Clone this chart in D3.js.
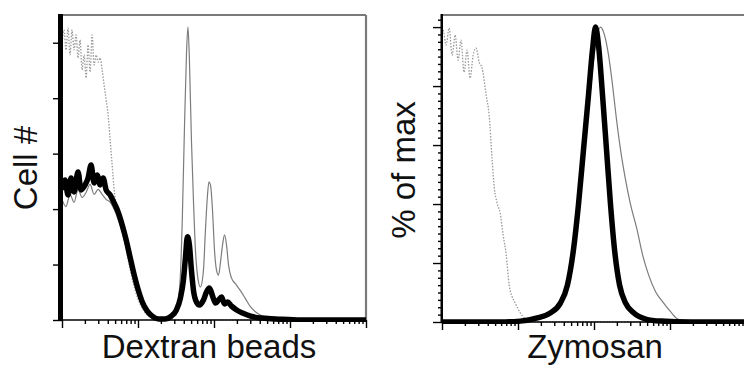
<!DOCTYPE html>
<html><head><meta charset="utf-8">
<script src="https://cdn.jsdelivr.net/npm/d3@7"></script>
<style>body{margin:0;background:#fff}svg{display:block}</style>
</head><body>
<svg id="c" width="744" height="372"></svg>
<script>
// ---------- data (fluorescence intensity on a 4-decade log axis, counts / % of max) ----------
const xDomain = [1, 10000];
const xMajorTicks = [1, 10, 100, 1000, 10000];
const dextranYTicks = [0, 20, 40, 60, 80, 100];
const zymosanYTicks = [0, 20, 40, 60, 80, 100];
const xTitles = ["Dextran beads", "Zymosan"];
const yTitles = ["Cell #", "% of max"];

const dextranControl = [[1,99.2],[1.063,104.6],[1.129,97.4],[1.2,105.3],[1.275,95.6],[1.355,104.6],[1.44,97.4],[1.53,102.8],[1.626,94.5],[1.728,101.0],[1.837,90.2],[1.952,95.6],[2.074,87.3],[2.204,99.2],[2.342,89.4],[2.489,102.8],[2.645,92.0],[2.811,95.6],[2.987,93.0],[3.174,94.5],[3.374,90.2],[3.585,84.7],[3.809,79.3],[4.048,73.9],[4.302,64.9],[4.572,55.9],[4.859,46.9],[5.323,39.7],[6.011,34.3],[6.789,27.0],[7.665,19.8],[8.656,13.3],[9.775,8.3],[11.38,4.3],[13.25,1.8],[15.42,0.7],[19.67,0],[10000,0]];
const dextranGray = [[1,43.5],[1.129,40.9],[1.275,45.3],[1.44,42.4],[1.626,47.1],[1.837,44.2],[2.074,46.0],[2.342,48.9],[2.645,45.3],[2.987,47.1],[3.374,45.3],[3.809,43.5],[4.302,42.5],[4.859,39.9],[5.487,36.1],[6.197,31.7],[6.999,26.0],[7.904,19.8],[8.923,13.7],[10.08,9.0],[11.38,5.4],[13.25,2.5],[15.42,1.1],[18.51,0.4],[22.89,0.4],[27.48,1.1],[31.99,2.5],[34.0,7.2],[36.13,16.2],[38.4,37.9],[40.8,68.5],[43.4,95.6],[45.4,105.7],[47.49,93.8],[50.47,64.9],[53.63,43.3],[57.0,25.2],[60.6,16.2],[66.3,11.9],[72.67,18.0],[77.2,32.5],[82.1,45.1],[85.9,49.8],[89.9,48.7],[95.54,39.7],[101.5,25.2],[107.9,18.0],[114.7,16.2],[121.8,20.9],[129.5,27.0],[137.6,30.7],[146.2,27.0],[155.4,19.8],[170.2,15.1],[192.2,13.0],[223.8,10.5],[260.5,7.6],[303.2,4.7],[353.1,2.9],[436.9,1.4],[648.4,0.4],[1387,0],[10000,0]];
const dextranBlack = [[1,46.9],[1.095,50.5],[1.2,45.1],[1.315,51.2],[1.44,46.2],[1.626,53.4],[1.781,46.9],[2.012,48.7],[2.204,51.2],[2.415,55.9],[2.645,49.4],[2.897,52.3],[3.174,48.7],[3.477,51.2],[3.809,46.9],[4.302,45.1],[4.859,42.2],[5.487,38.9],[6.197,34.3],[6.999,28.8],[7.904,22.4],[8.923,16.2],[10.08,10.8],[11.38,6.5],[13.25,3.2],[15.42,1.4],[18.51,0.4],[22.89,0.4],[27.48,1.4],[31.99,3.6],[36.13,7.9],[39.57,14.4],[42.05,22.4],[44.69,30.0],[47.49,27.0],[50.47,18.0],[53.63,10.8],[58.75,6.5],[64.37,5.4],[72.67,7.2],[79.62,10.1],[87.23,11.5],[95.54,8.7],[104.7,6.1],[114.7,7.2],[125.6,8.3],[137.6,5.8],[150.8,6.5],[170.2,5.0],[198.2,3.6],[237.8,2.5],[303.2,1.4],[411.1,0.7],[648.4,0.4],[1387,0],[10000,0]];

const zymosanControl = [[1,96],[1.03,99],[1.13,93.9],[1.24,99.7],[1.36,90.5],[1.49,97.3],[1.63,88.8],[1.78,95.6],[1.95,84.7],[2.14,92.2],[2.34,82.7],[2.57,90.5],[2.81,92.9],[3.08,88.1],[3.37,86.1],[3.81,76.9],[4.17,70.2],[4.57,54.9],[4.86,45.8],[5.32,40.3],[5.83,36.9],[6.38,29.5],[7.0,22.7],[7.66,12.5],[8.4,8.5],[9.2,6.4],[10.7,3.1],[12.5,1.0],[14.5,0.3],[19.7,0],[10000,0]];
const zymosanGray = [[1,0],[10.7,0],[19.7,1.0],[28.3,2.7],[36.1,5.8],[43.4,10.8],[52.0,22.7],[62.4,38.0],[74.9,58.3],[89.9,78.6],[104.7,93.9],[121.9,100],[137.6,97.3],[155.4,90.5],[175.4,80.3],[198.1,68.5],[223.8,58.3],[260.6,48.1],[303.3,39.7],[364,31.9],[436.7,22.7],[524,15.9],[648.6,10.2],[802,6.8],[1023,3.4],[1265,1.0],[1879,0],[10000,0]];
const zymosanBlack = [[1,0],[5.83,0],[10.7,0.3],[17.9,1.4],[26.7,3.1],[36.1,6.4],[44.7,12.5],[53.6,24.4],[62.4,39.7],[72.7,58.3],[84.6,76.9],[95.5,92.2],[104.7,100],[114.6,93.9],[129.5,76.9],[146.2,58.3],[165.1,39.7],[186.5,24.4],[217.1,12.5],[260.6,6.4],[332,3.1],[478.6,1.0],[755,0.3],[1879,0],[10000,0]];

// ---------- layout ----------
const panels = [
  {series:[dextranControl, dextranGray, dextranBlack], yTicks:dextranYTicks, yMax:110, yMinorStep:5,
   left:62, right:366, top:15, bottom:320, axisW:5, xTitle:xTitles[0], yTitle:yTitles[0],
   xTitleX:209, yTitleX:37, yTitleY:168},
  {series:[zymosanControl, zymosanGray, zymosanBlack], yTicks:zymosanYTicks, yMax:104.1, yMinorStep:2.5,
   left:442, right:746, top:15, bottom:322, axisW:2.5, xTitle:xTitles[1], yTitle:yTitles[1],
   xTitleX:595, yTitleX:415, yTitleY:170}
];
const styles = [
  {stroke:"#9a9a9a", width:1.3, dash:"1.5,1.5"},
  {stroke:"#7c7c7c", width:1.2, dash:null},
  {stroke:"#000", width:5.5, dash:null}
];
const font = "'Liberation Sans', Arial, Helvetica, sans-serif";

const svg = d3.select("#c");
panels.forEach((p, i) => {
  const x = d3.scaleLog().domain(xDomain).range([p.left, p.right]);
  const y = d3.scaleLinear().domain([0, p.yMax]).range([p.bottom, p.top]);
  const g = svg.append("g");

  const clipId = "clip" + i;
  svg.append("clipPath").attr("id", clipId).append("rect")
    .attr("x", p.left).attr("y", p.top - 2).attr("width", p.right - p.left).attr("height", p.bottom - p.top + 4);

  // frame top/right
  g.append("line").attr("x1", p.left).attr("x2", p.right).attr("y1", p.top).attr("y2", p.top)
    .attr("stroke", "#7a7a7a").attr("stroke-width", 2.2);
  g.append("line").attr("x1", p.right).attr("x2", p.right).attr("y1", p.top).attr("y2", p.bottom)
    .attr("stroke", "#7a7a7a").attr("stroke-width", 2.2);

  // histograms
  const line = d3.line().x(d => x(d[0])).y(d => y(d[1])).curve(d3.curveMonotoneX);
  const hg = g.append("g").attr("clip-path", `url(#${clipId})`);
  p.series.forEach((s, k) => {
    const st = styles[k];
    hg.append("path").attr("d", line(s)).attr("fill", "none")
      .attr("stroke", st.stroke).attr("stroke-width", st.width)
      .attr("stroke-linejoin", "round").attr("stroke-dasharray", st.dash);
  });

  // x axis
  const allX = x.ticks();
  const minorX = allX.filter(v => !xMajorTicks.includes(v));
  const xa = g.append("g").attr("transform", `translate(0,${p.bottom})`);
  xa.call(d3.axisBottom(x).tickValues(minorX).tickSize(4).tickFormat(""));
  xa.append("g").call(d3.axisBottom(x).tickValues(xMajorTicks).tickSize(8).tickFormat(""));
  xa.selectAll(".domain").remove();
  xa.selectAll("line").attr("stroke", "#000").attr("stroke-width", 1.4);
  g.append("line").attr("x1", p.left).attr("x2", p.right).attr("y1", p.bottom).attr("y2", p.bottom)
    .attr("stroke", "#000").attr("stroke-width", 1.6);

  // y axis
  const minorY = d3.range(0, p.yMax, p.yMinorStep).filter(v => !p.yTicks.includes(v));
  const ya = g.append("g").attr("transform", `translate(${p.left},0)`);
  ya.call(d3.axisLeft(y).tickValues(minorY).tickSize(4).tickFormat(""));
  ya.append("g").call(d3.axisLeft(y).tickValues(p.yTicks).tickSize(9).tickFormat(""));
  ya.selectAll(".domain").remove();
  ya.selectAll("line").attr("stroke", "#000").attr("stroke-width", 1.4);
  g.append("line").attr("x1", p.left - p.axisW / 2 + 1).attr("x2", p.left - p.axisW / 2 + 1)
    .attr("y1", p.top - 1).attr("y2", p.bottom + 1)
    .attr("stroke", "#000").attr("stroke-width", p.axisW);

  // titles
  g.append("text").attr("x", p.xTitleX).attr("y", 358).attr("text-anchor", "middle")
    .attr("font-family", font).attr("font-size", 33).attr("fill", "#111").text(p.xTitle);
  g.append("text").attr("transform", `translate(${p.yTitleX},${p.yTitleY}) rotate(-90)`)
    .attr("text-anchor", "middle").attr("font-family", font).attr("font-size", 33)
    .attr("fill", "#111").text(p.yTitle);
});
</script>
</body></html>
